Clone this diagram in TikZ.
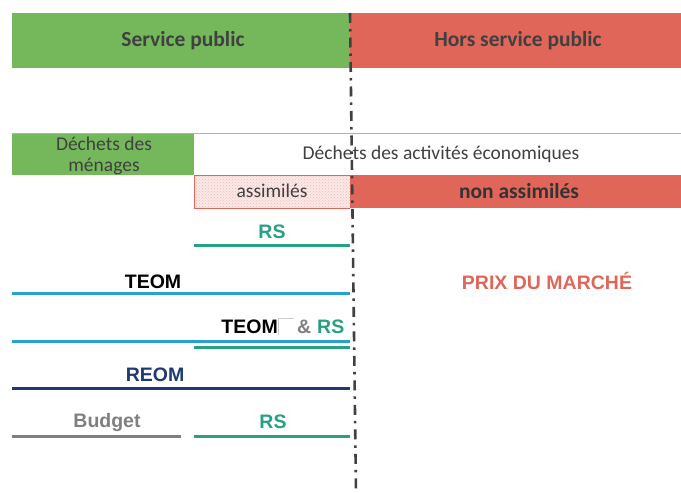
\documentclass[tikz,border=0pt]{standalone}
\usepackage{fontspec}
\setmainfont{Carlito}
\newfontfamily\arialf{Liberation Sans}
\usetikzlibrary{patterns}
\definecolor{spgreen}{HTML}{75B85C}
\definecolor{hsred}{HTML}{E0665A}
\definecolor{darktxt}{HTML}{404040}
\definecolor{teal}{HTML}{27A085}
\definecolor{lblue}{HTML}{2AA3CC}
\definecolor{navy}{HTML}{1F3A73}
\definecolor{gline}{HTML}{7F7F7F}
\definecolor{pinkfill}{HTML}{FBE9E7}
\tikzset{
  bar/.style={inner sep=0pt, outer sep=0pt, text=darktxt},
  hdr/.style={bar, font=\fontsize{21.5}{24}\selectfont\bfseries},
  reg/.style={bar, font=\fontsize{19.5}{21}\selectfont},
  lbl/.style={inner sep=0pt, font=\arialf\fontsize{19.5}{22}\selectfont\bfseries},
  rule/.style={line width=3pt},
}
\begin{document}
\begin{tikzpicture}[x=1pt,y=-1pt]
\useasboundingbox (0,0) rectangle (681,493);
% header bars
\fill[spgreen] (12,13) rectangle (350,68);
\fill[hsred] (350,13) rectangle (681,68);
\node[hdr] (sp) at (183,41) {Service public};
\node[hdr] (hsp) at (518,41) {Hors service public};
% second row
\fill[spgreen] (12,133) rectangle (194,175);
\draw[gline!60, line width=0.8pt] (12,133) -- (681,133);
\node[reg, align=center] (menages) at (104,156) {Déchets des\\ménages};
\node[reg] (dae) at (441,154) {Déchets des activités économiques};
% third row
\fill[pinkfill] (194,175) rectangle (350,208);
\fill[pattern=crosshatch dots, pattern color=hsred!45] (194,175) rectangle (350,208);
\draw[hsred, line width=0.8pt] (350,175) -- (194,175) -- (194,208) -- (350,208);
\fill[hsred] (350,175) rectangle (681,208);
\node[reg] (ass) at (272,191) {assimilés};
\node[bar, font=\fontsize{21.5}{24}\selectfont\bfseries, text=black!80] (nass) at (519,191) {non assimilés};
% RS row
\coordinate (rs1a) at (194,245); \coordinate (rs1b) at (350,245);
\node[lbl, text=teal] (rs1) at (272,232) {RS};
\draw[rule, teal] (rs1a) -- (rs1b);
% TEOM
\coordinate (t1a) at (12,293); \coordinate (t1b) at (350,293);
\node[lbl, text=black] (teom) at (153,282) {TEOM};
\draw[rule, lblue] (t1a) -- (t1b);
\node[lbl, text=hsred] (prix) at (547,281) {PRIX DU MARCHÉ};
% TEOM & RS
\node[lbl, text=black, anchor=east] (teom2) at (278,327) {TEOM};
\draw[gline!40, line width=0.5pt] (278,335) |- (294,318);
\node[lbl, text=gline, anchor=west] (amp) at (297,327) {\&};
\node[lbl, text=teal, anchor=west] (rs2) at (317,327) {RS};
\coordinate (t2a) at (12,341); \coordinate (t2b) at (350,341);
\coordinate (r2a) at (194,347); \coordinate (r2b) at (350,347);
\draw[rule, lblue] (t2a) -- (t2b);
\draw[rule, teal] (r2a) -- (r2b);
% REOM
\node[lbl, text=navy] (reom) at (155,375) {REOM};
\coordinate (ra) at (12,388); \coordinate (rb) at (350,388);
\draw[rule, navy] (ra) -- (rb);
% Budget / RS
\node[lbl, text=gline] (budget) at (107,422) {Budget};
\coordinate (ba) at (12,436); \coordinate (bb) at (181,436);
\draw[rule, gline] (ba) -- (bb);
\node[lbl, text=teal] (rs3) at (273,422) {RS};
\coordinate (r3a) at (194,436); \coordinate (r3b) at (350,436);
\draw[rule, teal] (r3a) -- (r3b);
% divider
\coordinate (dtop) at (350,13); \coordinate (dbot) at (356,493);
\draw[darktxt, line width=2.6pt, dash pattern=on 10pt off 6pt on 2.5pt off 6pt] (dtop) -- (dbot);
\end{tikzpicture}
\end{document}
